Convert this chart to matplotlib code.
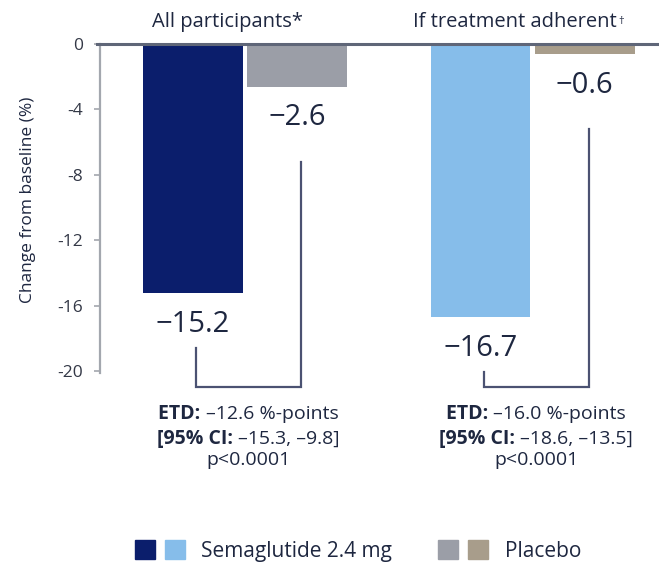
import matplotlib
matplotlib.use("Agg")
import matplotlib.pyplot as plt
from matplotlib.patches import Rectangle
from matplotlib.legend_handler import HandlerTuple
from matplotlib.transforms import IdentityTransform

plt.rcParams['font.family'] = ['Open Sans', 'DejaVu Sans']

# data
groups = ['All participants*', 'If treatment adherent']
group_marks = ['', '\u2020']
sema = [-15.2, -16.7]
placebo = [-2.6, -0.6]
etd = ['\u201312.6', '\u201316.0']
ci = ['\u201315.3, \u20139.8]', '\u201318.6, \u201313.5]']
p_vals = ['p<0.0001', 'p<0.0001']
yticks = [0, -4, -8, -12, -16, -20]

sema_colors = ['#0b1e6c', '#86bdea']
placebo_colors = ['#9b9ea7', '#a89d8b']
txt = '#1e2740'
grey = '#a3a7ae'
bracket_c = '#4b5272'

W, H = 659, 573
fig = plt.figure(figsize=(W / 100, H / 100), dpi=100)
ax = fig.add_axes([100 / W, 1 - 373 / H, 559 / W, 329 / H])

centers = [0, 2.82]
off = 0.51
bw = 0.98
xs_sema = [c - off for c in centers]
xs_plac = [c + off for c in centers]

ax.bar(xs_sema, sema, width=bw, color=sema_colors, zorder=2)
ax.bar(xs_plac, placebo, width=bw, color=placebo_colors, zorder=2)
ax.set_xlim(-1.42, 4.06)
ax.set_ylim(-20.1, 0)

# zero line
ax.axhline(0, xmin=-0.006, xmax=1, color='#5f6678', lw=2.2, clip_on=False, zorder=3)

for s in ['top', 'right', 'bottom']:
    ax.spines[s].set_visible(False)
ax.spines['left'].set_color(grey)
ax.spines['left'].set_linewidth(1.6)
ax.set_xticks([])
ax.set_yticks(yticks)
ax.set_yticklabels([str(v) for v in yticks])
ax.tick_params(axis='y', length=4, width=1.2, color=grey, pad=8,
               labelsize=12.5, labelcolor='#333846')

fig.text(28 / W, 1 - 200 / H, 'Change from baseline (%)', rotation=90,
         ha='center', va='center', fontsize=12.5, color=txt)

r = fig.canvas.get_renderer()

# group titles (dagger as a small superscript)
for c, g, m in zip(centers, groups, group_marks):
    t = ax.text(c - 0.17, 1.35, g, ha='center', va='center', fontsize=14.5,
                color=txt, clip_on=False)
    if m:
        bb = t.get_window_extent(r)
        fig.text(bb.x1 + 1, bb.y1 - 4, m, transform=IdentityTransform(),
                 ha='left', va='top', fontsize=8, color=txt)

# value labels
for x, v in zip(xs_sema + xs_plac, sema + placebo):
    ax.annotate(f'\u2212{abs(v):.1f}', (x, v), xytext=(0, -22.5),
                textcoords='offset points', ha='center', va='center',
                fontsize=21, color=txt)

# brackets
ybot = -20.95


def mixed(cx, cy, bold, normal, size=14):
    t1 = fig.text(0, 0, bold, weight='bold', fontsize=size, color=txt,
                  transform=IdentityTransform(), va='baseline', ha='left')
    t2 = fig.text(0, 0, normal, fontsize=size, color=txt,
                  transform=IdentityTransform(), va='baseline', ha='left')
    w1 = t1.get_window_extent(r).width
    w2 = t2.get_window_extent(r).width
    x0 = cx - (w1 + w2) / 2
    t1.set_position((x0, cy - 7))
    t2.set_position((x0 + w1, cy - 7))


for i in range(2):
    xl = xs_sema[i] + 0.03
    xr = xs_plac[i] + 0.04
    yl = sema[i] - 3.35
    yr = placebo[i] - 4.6
    ax.plot([xl, xl, xr, xr], [yl, ybot, ybot, yr], color=bracket_c,
            lw=1.6, clip_on=False, solid_joinstyle='miter')
    mx, my = ax.transData.transform(((xl + xr) / 2, ybot))
    mixed(mx, my - 25, 'ETD: ', etd[i] + ' %-points')
    mixed(mx, my - 50, '[95% CI: ', ci[i])
    fig.text(mx, my - 73, p_vals[i], transform=IdentityTransform(),
             ha='center', va='center', fontsize=14, color=txt)

# legend
h_sema = tuple(Rectangle((0, 0), 1, 1, color=c) for c in sema_colors)
h_plac = tuple(Rectangle((0, 0), 1, 1, color=c) for c in placebo_colors)
fig.legend([h_sema, h_plac], ['Semaglutide 2.4 mg', 'Placebo'],
           handler_map={tuple: HandlerTuple(ndivide=None, pad=0.48)},
           loc='center', bbox_to_anchor=(358 / W, 1 - 551 / H), ncol=2,
           frameon=False, fontsize=15, handlelength=2.4, handleheight=1.0,
           handletextpad=0.8, columnspacing=2.2, labelcolor=txt)

fig.savefig('out.png', dpi=100)
